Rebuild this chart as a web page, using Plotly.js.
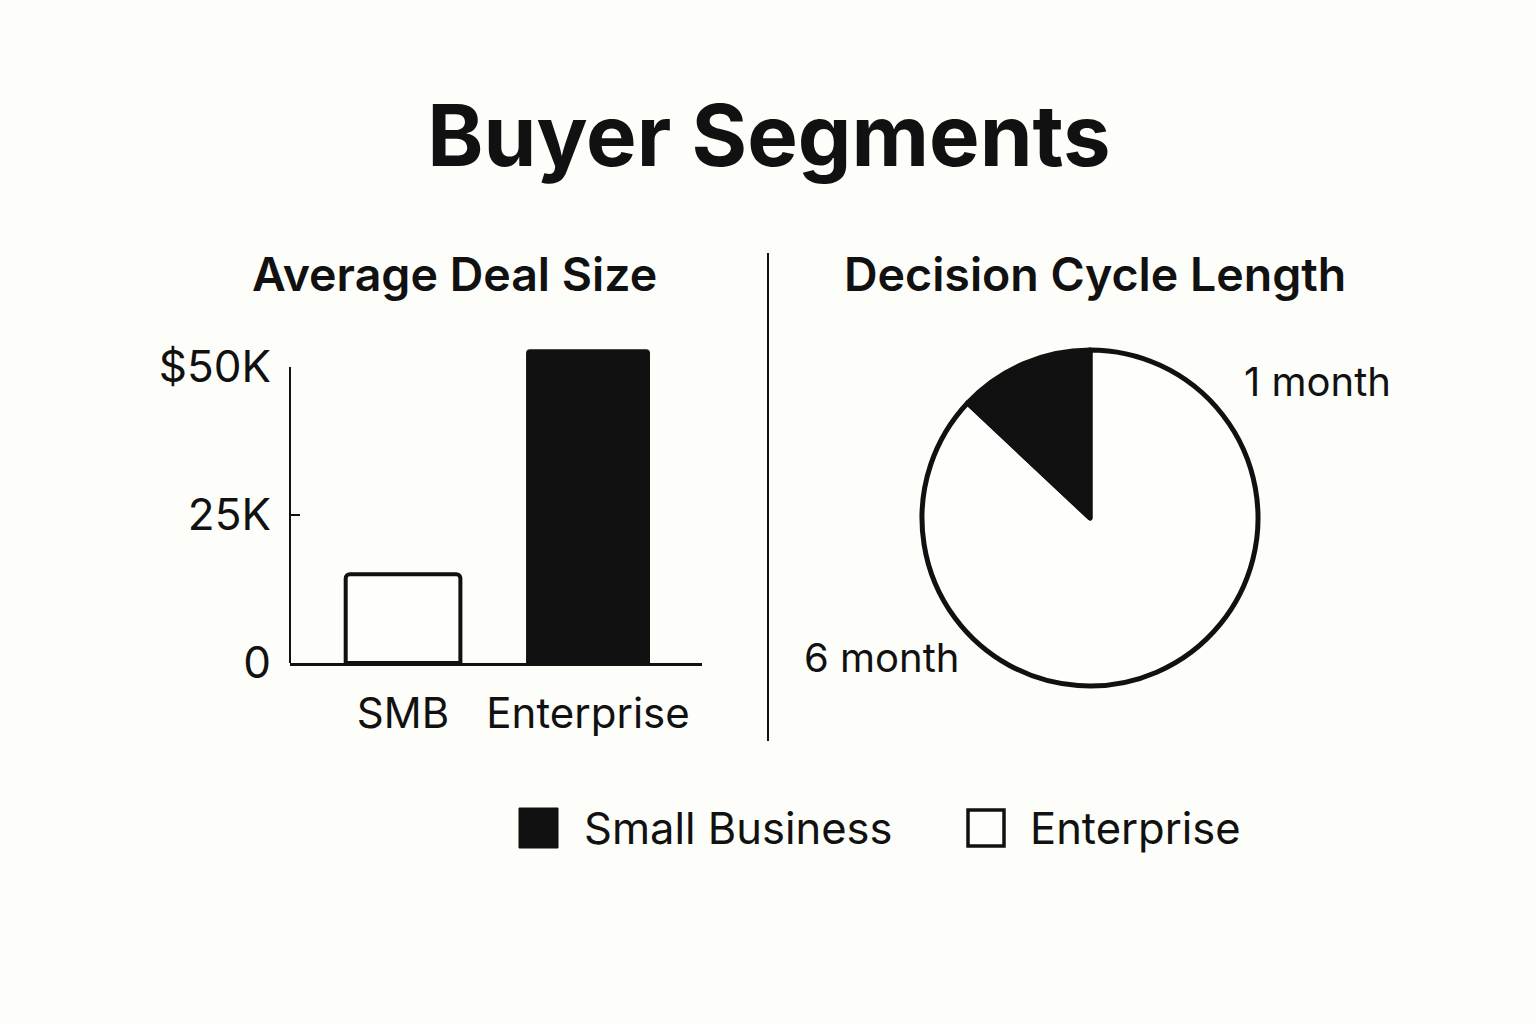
<!DOCTYPE html>
<html>
<head>
<meta charset="utf-8">
<script src="https://cdn.plot.ly/plotly-3.0.1.min.js"></script>
<style>html,body{margin:0;padding:0;background:#fdfdf9;}#chart{width:1536px;height:1024px;}</style>
</head>
<body>
<div id="chart"></div>
<script>
// ---- data ----
const chartTitle = "Buyer Segments";
const panelTitles = ["Average Deal Size", "Decision Cycle Length"];
const barCategories = ["SMB", "Enterprise"];
const dealSizeK = [15, 53];
const yTickVals = [0, 25, 50];
const yTickText = ["0", "25K", "$50K"];
const yAxisTop = 50;
const cycleLabels = ["6 month", "1 month"];
const cycleShares = [87, 13];
const legendLabels = ["Small Business", "Enterprise"];

const INK = "#111111";
const BG = "#fdfdf9";
const FONT = "Inter, 'Open Sans', sans-serif";

// y scale: 0 at 663px, 50 at 367px
const PXU = (663 - 367) / 50;
const yMax = 56;
const yTopPx = 663 - yMax * PXU;

const bar = {
  type: "bar",
  x: barCategories,
  y: dealSizeK,
  xaxis: "x", yaxis: "y",
  width: [0.62, 0.67],
  marker: {
    color: ["#fefefc", INK],
    line: {color: INK, width: [4, 0]},
    cornerradius: 4
  },
  hoverinfo: "skip",
  showlegend: false
};

const pie = {
  type: "pie",
  labels: cycleLabels,
  values: cycleShares,
  sort: false,
  direction: "clockwise",
  rotation: 0,
  textinfo: "none",
  marker: {colors: ["#fefefc", INK], line: {color: INK, width: 5}},
  domain: {x: [922/1536, 1258/1536], y: [(506-168)/1024, (506+168)/1024]},
  hoverinfo: "skip",
  showlegend: false
};

const annotations = [
  {text: panelTitles[0], x: 454/1536, y: 1 - 274/1024},
  {text: panelTitles[1], x: 1095/1536, y: 1 - 274/1024},
].map(a => Object.assign({xref: "paper", yref: "paper", showarrow: false, xanchor: "center", yanchor: "middle",
  font: {family: FONT, size: 46.5, color: INK, weight: 600}}, a));

// pie labels
annotations.push({text: cycleLabels[1], x: 1242/1536, y: 1 - 381/1024, xanchor: "left"});
annotations.push({text: cycleLabels[0], x: 802/1536, y: 1 - 657/1024, xanchor: "left"});
// legend labels
annotations.push({text: legendLabels[0], x: 582/1536, y: 1 - 828/1024, xanchor: "left"});
annotations.push({text: legendLabels[1], x: 1028/1536, y: 1 - 828/1024, xanchor: "left"});
for (let i = 2; i < annotations.length; i++) {
  Object.assign(annotations[i], {xref: "paper", yref: "paper", showarrow: false, yanchor: "middle",
    font: {family: FONT, size: (i < 4 ? 40 : 43.5), color: INK}});
}

const shapes = [
  // y axis line (0 to 50K only)
  {type: "line", xref: "x domain", yref: "y", x0: 0, x1: 0, y0: 0, y1: yAxisTop,
   line: {color: INK, width: 2}},
  // 25K tick
  {type: "line", xref: "paper", yref: "y", x0: 290/1536, x1: 300/1536, y0: yTickVals[1], y1: yTickVals[1],
   line: {color: INK, width: 2}},
  // divider
  {type: "line", xref: "paper", yref: "paper", x0: 768/1536, x1: 768/1536, y0: 1 - 253/1024, y1: 1 - 741/1024,
   line: {color: INK, width: 2}},
  // legend swatches
  {type: "rect", xref: "paper", yref: "paper", x0: 519/1536, x1: 558/1536, y0: 1 - 848/1024, y1: 1 - 808/1024,
   fillcolor: INK, line: {color: INK, width: 1}},
  {type: "rect", xref: "paper", yref: "paper", x0: 968/1536, x1: 1004/1536, y0: 1 - 846/1024, y1: 1 - 810/1024,
   fillcolor: "#fefefc", line: {color: INK, width: 3.5}}
];

const layout = {
  width: 1536, height: 1024,
  paper_bgcolor: BG, plot_bgcolor: "rgba(0,0,0,0)",
  margin: {l: 0, r: 0, t: 0, b: 0},
  font: {family: FONT, color: INK},
  title: {text: chartTitle, x: 769/1536, xanchor: "center", y: 1 - 136/1024, yanchor: "middle",
          font: {family: FONT, size: 85, weight: 700, color: INK}},
  showlegend: false,
  xaxis: {
    domain: [290/1536, 702/1536], range: [-0.611, 1.616], anchor: "y",
    showline: true, linecolor: INK, linewidth: 3, ticks: "", showgrid: false, zeroline: false,
    tickfont: {family: FONT, size: 42, color: INK}, ticklabelstandoff: 12, fixedrange: true
  },
  yaxis: {
    domain: [1 - 663/1024, 1 - yTopPx/1024], range: [0, yMax], anchor: "x",
    showline: false, ticks: "", showgrid: false, zeroline: false,
    tickvals: yTickVals, ticktext: yTickText,
    tickfont: {family: FONT, size: 44, color: INK}, ticklabelstandoff: 18, fixedrange: true
  },
  annotations: annotations,
  shapes: shapes
};

Plotly.newPlot("chart", [bar, pie], layout, {displayModeBar: false, staticPlot: true});
</script>
</body>
</html>
